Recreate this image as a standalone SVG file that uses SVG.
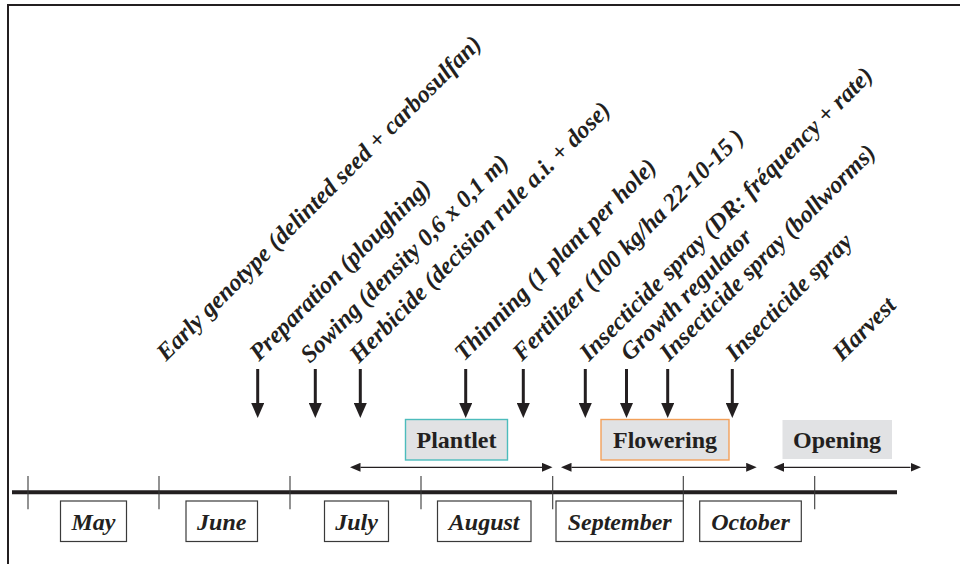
<svg xmlns="http://www.w3.org/2000/svg" width="960" height="564" viewBox="0 0 960 564">
<defs>
<style>
text{font-family:'Liberation Serif','Times New Roman',Times,'DejaVu Serif',serif;font-weight:bold;font-size:24px;fill:#231f20}
.lbl{font-style:italic;font-size:24.3px}
.stg{text-anchor:middle}
.mon{font-style:italic;text-anchor:middle}
.mbox{fill:#fff;stroke:#3a3a3a;stroke-width:1.2}
.down{stroke:#231f20;stroke-width:3;fill:none;marker-end:url(#dhead)}
.span{stroke:#231f20;stroke-width:1.3;fill:none;marker-start:url(#shead);marker-end:url(#shead)}
.tick{stroke:#3a3a3a;stroke-width:1.1}
</style>
<marker id="dhead" markerUnits="userSpaceOnUse" markerWidth="15" markerHeight="13" refX="0" refY="6.5" orient="auto"><path d="M0,0 L15,6.5 L0,13 z" fill="#231f20"/></marker>
<marker id="shead" markerUnits="userSpaceOnUse" markerWidth="11" markerHeight="9" refX="0" refY="4.5" orient="auto-start-reverse"><path d="M0,0 L10.5,4.5 L0,9 z" fill="#231f20"/></marker>
</defs>
<rect width="960" height="564" fill="#fff"/>
<path d="M8,564 V5 H960" fill="none" stroke="#231f20" stroke-width="2"/>

<g id="labels">
<text class="lbl" transform="translate(166,362) rotate(-45)">Early genotype (delinted seed + carbosulfan)</text>
<text class="lbl" transform="translate(259,362) rotate(-45)">Preparation (ploughing)</text>
<text class="lbl" transform="translate(310,364) rotate(-45)">Sowing (density 0,6 x 0,1 m)</text>
<text class="lbl" transform="translate(359,364) rotate(-45)">Herbicide (decision rule a.i. + dose)</text>
<text class="lbl" transform="translate(464,362) rotate(-45)">Thinning (1 plant per hole)</text>
<text class="lbl" transform="translate(522,362) rotate(-45)">Fertilizer (100 kg/ha 22-10-15 )</text>
<text class="lbl" transform="translate(589,362) rotate(-45)">Insecticide spray (DR: fréquency + rate)</text>
<text class="lbl" transform="translate(630,362) rotate(-45)">Growth regulator</text>
<text class="lbl" transform="translate(669,362) rotate(-45)">Insecticide spray (bollworms)</text>
<text class="lbl" transform="translate(735,362) rotate(-45)">Insecticide spray</text>
<text class="lbl" transform="translate(842,362) rotate(-45)">Harvest</text>
</g>

<g id="connectors">
<line class="down" x1="257.7" y1="369" x2="257.7" y2="403"/>
<line class="down" x1="315.3" y1="369" x2="315.3" y2="403"/>
<line class="down" x1="360.3" y1="369" x2="360.3" y2="403"/>
<line class="down" x1="465.7" y1="369" x2="465.7" y2="403"/>
<line class="down" x1="523.3" y1="369" x2="523.3" y2="403"/>
<line class="down" x1="585.3" y1="369" x2="585.3" y2="403"/>
<line class="down" x1="626.5" y1="369" x2="626.5" y2="403"/>
<line class="down" x1="667.7" y1="369" x2="667.7" y2="403"/>
<line class="down" x1="732.3" y1="369" x2="732.3" y2="403"/>
<line class="span" x1="360.5" y1="467.3" x2="542" y2="467.3"/>
<line class="span" x1="571.5" y1="467.3" x2="746.2" y2="467.3"/>
<line class="span" x1="784" y1="467.3" x2="910.5" y2="467.3"/>
</g>

<g id="stage-plantlet">
<rect x="405.5" y="419.5" width="102" height="40.5" fill="#e1e2e4" stroke="#4cbcbc" stroke-width="1.4"/>
<text class="stg" x="456.5" y="448.3">Plantlet</text>
</g>
<g id="stage-flowering">
<rect x="601" y="419.5" width="128" height="40.5" fill="#e1e2e4" stroke="#f2a05a" stroke-width="1.4"/>
<text class="stg" x="665" y="448.3">Flowering</text>
</g>
<g id="stage-opening">
<rect x="782.5" y="420" width="109.5" height="39" fill="#e1e2e4"/>
<text class="stg" x="837" y="448.3">Opening</text>
</g>

<g id="timeline">
<line x1="12" y1="492.3" x2="897" y2="492.3" stroke="#231f20" stroke-width="4"/>
<line class="tick" x1="28" y1="476" x2="28" y2="509.3"/>
<line class="tick" x1="159" y1="476" x2="159" y2="509.3"/>
<line class="tick" x1="290" y1="476" x2="290" y2="509.3"/>
<line class="tick" x1="421" y1="476" x2="421" y2="509.3"/>
<line class="tick" x1="552.7" y1="476" x2="552.7" y2="509.3"/>
<line class="tick" x1="683.3" y1="476" x2="683.3" y2="509.3"/>
<line class="tick" x1="814.7" y1="476" x2="814.7" y2="509.3"/>
</g>

<g id="month-may"><rect class="mbox" x="60.5" y="501" width="66" height="40.5"/><text class="mon" x="93.5" y="530">May</text></g>
<g id="month-june"><rect class="mbox" x="186" y="501" width="71.5" height="40.5"/><text class="mon" x="221.8" y="530">June</text></g>
<g id="month-july"><rect class="mbox" x="324.5" y="501" width="64" height="40.5"/><text class="mon" x="356.5" y="530">July</text></g>
<g id="month-august"><rect class="mbox" x="437.5" y="501" width="93.5" height="40.5"/><text class="mon" x="484.2" y="530">August</text></g>
<g id="month-september"><rect class="mbox" x="556" y="501" width="127.3" height="40.5"/><text class="mon" x="619.7" y="530">September</text></g>
<g id="month-october"><rect class="mbox" x="699.7" y="501" width="101.6" height="40.5"/><text class="mon" x="750.5" y="530">October</text></g>
</svg>
